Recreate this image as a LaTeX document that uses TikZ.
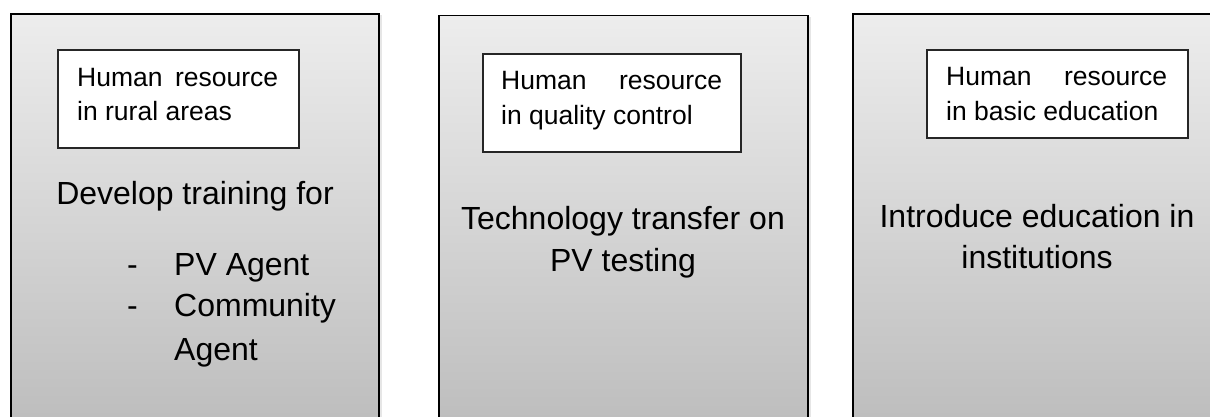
\documentclass[tikz,border=0pt]{standalone}
\usepackage{fontspec}
\setmainfont{Liberation Sans}
\usetikzlibrary{shadows}
\definecolor{boxtop}{RGB}{237,237,237}
\definecolor{boxbot}{RGB}{188,188,188}
\begin{document}
\begin{tikzpicture}[x=1pt,y=-1pt,
  outerbox/.style={draw=black, line width=1.8pt, top color=boxtop, bottom color=boxbot,
    inner sep=0pt, outer sep=0pt, anchor=north west,
    drop shadow={shadow xshift=2.5pt, shadow yshift=-1pt, opacity=0.2}},
  innerbox/.style={draw=black!85, line width=1.3pt, fill=white, inner sep=0pt, outer sep=0pt, anchor=north west},
  small/.style={font=\fontsize{26.5}{32}\selectfont, inner sep=0pt, anchor=base west},
  big/.style={font=\fontsize{32}{40}\selectfont, inner sep=0pt, anchor=base},
  bigl/.style={big, anchor=base west}]
\useasboundingbox (0,0) rectangle (1210,416);
\clip (0,0) rectangle (1210,416);
% outer panels
\node[outerbox, minimum width=368pt, minimum height=420pt] (p1) at (11,14) {};
\node[outerbox, minimum width=369pt, minimum height=420pt] (p2) at (439,15.5) {};
\node[outerbox, minimum width=380pt, minimum height=420pt] (p3) at (853,14) {};
% inner boxes
\node[innerbox, minimum width=241pt, minimum height=98pt] (b1) at (58,50) {};
\node[innerbox, minimum width=258pt, minimum height=98pt] (b2) at (483,54) {};
\node[innerbox, minimum width=261pt, minimum height=88pt] (b3) at (927,50) {};
% panel 1 text
\node[small] (h1a) at (77,86) {\makebox[201pt][s]{Human resource}};
\node[small] (h1b) at (77,120) {in rural areas};
\node[big] (d1) at (195,204) {Develop training for};
\node[bigl] (dash1) at (127,275) {-};
\node[bigl] (pv) at (174,275) {PV Agent};
\node[bigl] (dash2) at (127,316) {-};
\node[bigl] (com) at (174,316) {Community};
\node[bigl] (ag) at (174,360) {Agent};
% panel 2 text
\node[small] (h2a) at (501,89) {\makebox[221pt][s]{Human resource}};
\node[small] (h2b) at (501,124) {in quality control};
\node[big] (t2a) at (623,229) {Technology transfer on};
\node[big] (t2b) at (623,271) {PV testing};
% panel 3 text
\node[small] (h3a) at (946,85) {\makebox[221pt][s]{Human resource}};
\node[small] (h3b) at (946,120) {in basic education};
\node[big] (t3a) at (1037,227) {Introduce education in};
\node[big] (t3b) at (1037,268) {institutions};
\end{tikzpicture}
\end{document}
